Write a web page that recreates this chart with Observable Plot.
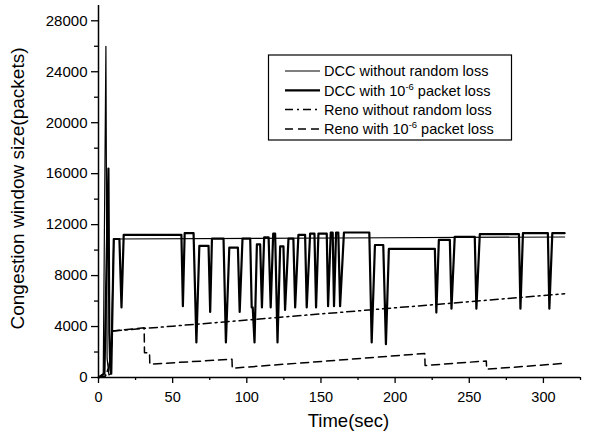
<!DOCTYPE html>
<html><head><meta charset="utf-8">
<script src="https://cdn.jsdelivr.net/npm/d3@7"></script>
<script src="https://cdn.jsdelivr.net/npm/@observablehq/plot@0.6"></script>
<style>
body{margin:0;background:#fff;}
svg{font-family:"Liberation Sans",Arial,sans-serif;}
</style>
</head><body><div id="chart"></div>
<script>
// Axis ticks
const xTicks = [0, 50, 100, 150, 200, 250, 300];
const xMinor = [25, 75, 125, 175, 225, 275, 325];
const yTicks = [0, 4000, 8000, 12000, 16000, 20000, 24000, 28000];
const yMinor = [2000, 6000, 10000, 14000, 18000, 22000, 26000];
const seriesNames = ["DCC without random loss", "DCC with 10", "Reno without random loss", "Reno with 10"];

// DCC without random loss (thin)
const dccNoLossT = [0, 3.2, 5.0, 5.8, 7.0, 8.2, 10.3, 160, 314.3];
const dccNoLossV = [0, 300, 26000, 1500, 200, 300, 10870, 10950, 11030];

// DCC with 1e-6 packet loss (thick)
const dccLossT = [0, 4.0, 6.7, 7.3, 8.0, 8.6, 10.3, 14.1, 15.5, 17.0,
  55.9, 56.9, 58.1, 64.1, 66.0, 68.0, 74.2, 75.3, 76.5, 84.3, 85.9, 88.2,
  94.0, 95.2, 97.1, 102.3, 103.3, 104.0, 105.2, 106.8, 109.0, 110.2, 111.7,
  114.7, 116.1, 117.8, 119.1, 120.7, 122.5, 124.7, 125.8, 128.1, 131.4, 132.6,
  134.8, 139.3, 140.4, 142.7, 145.6, 146.7, 148.3, 153.9, 154.8, 156.6, 157.9,
  158.8, 160.2, 161.7, 162.9, 165.5, 182.6, 184.2, 186.4, 192.0, 193.8, 195.8,
  226.8, 227.8, 229.5, 236.9, 238.0, 240.2, 253.7, 254.8, 257.1, 283.5, 284.5,
  286.2, 303.0, 304.0, 306.0, 314.3];
const dccLossV = [0, 300, 16400, 3500, 600, 300, 10870, 10870, 5500, 11200,
  11200, 5600, 11330, 11330, 2750, 10330, 10330, 5150, 10900, 10900, 2750, 10200,
  10200, 5150, 10900, 10900, 5500, 5500, 2750, 10450, 10450, 5500, 11000,
  11000, 5500, 11300, 11300, 2750, 10300, 10300, 5300, 10900, 10900, 5500,
  11200, 11200, 5500, 11300, 11300, 5500, 11300, 11300, 5600, 11380, 11380,
  5600, 11380, 11380, 5600, 11380, 11380, 2750, 10400, 10400, 2620, 10100,
  10100, 5100, 10800, 10800, 5400, 11050, 11050, 5400, 11250, 11250, 5400,
  11330, 11330, 5400, 11330, 11330];

// Reno without random loss (dash-dot)
const renoNoLossT = [0, 4.5, 7.0, 8.5, 9.4, 50, 100, 150, 200, 250, 300, 314.3];
const renoNoLossV = [0, 100, 800, 2000, 3650, 4030, 4510, 4990, 5470, 5950, 6430, 6570];

// Reno with 1e-6 packet loss (dashed)
const renoLossT = [0, 4.5, 7.0, 8.5, 9.4, 30.8, 31.0, 34.4, 34.6, 90.0, 90.2,
  220.0, 220.2, 261.5, 261.7, 314.3];
const renoLossV = [0, 100, 800, 2000, 3650, 3900, 1950, 1950, 1050, 1430, 730,
  1880, 940, 1300, 650, 1110];

const rows = (T, V) => T.map((t, i) => ({t, v: V[i]}));
const dccNoLoss = rows(dccNoLossT, dccNoLossV);
const dccLoss = rows(dccLossT, dccLossV);
const renoNoLoss = rows(renoNoLossT, renoNoLossV);
const renoLoss = rows(renoLossT, renoLossV);

const fmt = d => String(d);
const svg = Plot.plot({
  width: 603, height: 434,
  marginLeft: 98, marginRight: 23, marginTop: 5, marginBottom: 57,
  style: {fontSize: "15px", fontFamily: '"Liberation Sans", Arial, sans-serif', background: "#fff", color: "#000"},
  x: {domain: [0, 325]},
  y: {domain: [0, 29200]},
  marks: [
    Plot.line(dccNoLoss, {x: "t", y: "v", stroke: "#000", strokeWidth: 1.2}),
    Plot.line(renoNoLoss, {x: "t", y: "v", stroke: "#000", strokeWidth: 1.5, strokeDasharray: "8,4,2,4"}),
    Plot.line(renoLoss, {x: "t", y: "v", stroke: "#000", strokeWidth: 1.5, strokeDasharray: "8,5"}),
    Plot.line(dccLoss, {x: "t", y: "v", stroke: "#000", strokeWidth: 2.2}),
    Plot.ruleX([0], {stroke: "#000", strokeWidth: 1.5}),
    Plot.ruleY([0], {stroke: "#000", strokeWidth: 1.5}),
    Plot.axisX(xTicks, {tickSize: 6, tickPadding: 8.5, tickFormat: fmt, label: null, strokeWidth: 1.3, fontSize: 14.5}),
    Plot.axisX(xMinor, {tickSize: 3, tickFormat: () => "", label: null, strokeWidth: 1.3}),
    Plot.axisY(yTicks, {tickSize: 7, tickPadding: 4, tickFormat: fmt, label: null, strokeWidth: 1.3}),
    Plot.axisY(yMinor, {tickSize: 4, tickFormat: () => "", label: null, strokeWidth: 1.3}),
    Plot.text(["Time(sec)"], {frameAnchor: "bottom", lineAnchor: "middle", textAnchor: "middle", dx: 9, dy: 44, fontSize: 18.5}),
    Plot.text(["Congestion window size(packets)"], {frameAnchor: "left", lineAnchor: "middle", textAnchor: "middle", rotate: -90, dx: -80.5, dy: -3, fontSize: 19})
  ]
});
document.getElementById("chart").appendChild(svg);

// Legend
const g = d3.select(svg).append("g").attr("text-anchor", "start");
g.append("rect").attr("x", 268.5).attr("y", 55).attr("width", 243).attr("height", 85)
  .attr("fill", "#fff").attr("stroke", "#000").attr("stroke-width", 1.2);
const legendStyles = [
  {w: 1.2, dash: null},
  {w: 2.2, dash: null},
  {w: 1.5, dash: "8,4,2,4"},
  {w: 1.5, dash: "8,5"}
];
const rowY = [71, 90.3, 109.6, 128.9];
seriesNames.forEach((name, i) => {
  const y = rowY[i];
  const ln = g.append("line").attr("x1", 285).attr("x2", 320).attr("y1", y).attr("y2", y)
    .attr("stroke", "#000").attr("stroke-width", legendStyles[i].w);
  if (legendStyles[i].dash) ln.attr("stroke-dasharray", legendStyles[i].dash);
  const t = g.append("text").attr("x", 324).attr("y", y + 5.2).attr("font-size", 14.5)
    .attr("fill", "#000").attr("text-anchor", "start");
  if (i === 1 || i === 3) {
    t.append("tspan").text(name);
    t.append("tspan").attr("font-size", 9.5).attr("dy", -6).text("-6");
    t.append("tspan").attr("dy", 6).text(" packet loss");
  } else {
    t.text(name);
  }
});
</script>
</body></html>
